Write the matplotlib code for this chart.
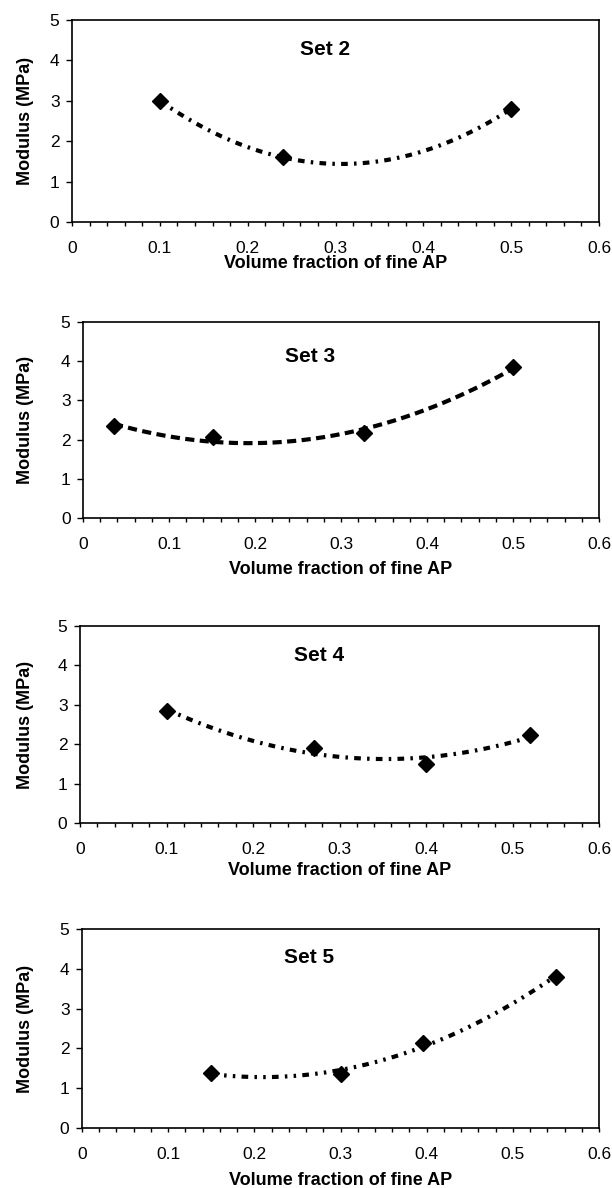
import numpy as np
import matplotlib
matplotlib.use("Agg")
import matplotlib.pyplot as plt
from matplotlib.ticker import MultipleLocator
from matplotlib.transforms import blended_transform_factory

plt.rcParams['font.family'] = ['Liberation Sans', 'DejaVu Sans']

# data
set_names = ["Set 2", "Set 3", "Set 4", "Set 5"]
x_set2 = [0.10, 0.24, 0.50]
y_set2 = [3.00, 1.60, 2.80]
x_set3 = [0.036, 0.151, 0.327, 0.50]
y_set3 = [2.35, 2.06, 2.18, 3.84]
x_set4 = [0.10, 0.27, 0.40, 0.52]
y_set4 = [2.85, 1.90, 1.50, 2.24]
x_set5 = [0.15, 0.30, 0.396, 0.55]
y_set5 = [1.38, 1.36, 2.14, 3.80]

xs = [x_set2, x_set3, x_set4, x_set5]
ys = [y_set2, y_set3, y_set4, y_set5]

W, H = 612, 1188
fig = plt.figure(figsize=(W / 100, H / 100), dpi=100)

# axes boxes in pixels: left, right, top, bottom
boxes = [(72, 599, 20, 222), (83, 599, 322, 518), (80, 599, 626, 823), (82, 599, 929, 1128)]
xlabel_top = [255, 561, 862, 1172]
title_pos = [(0.48, 0.855), (0.44, 0.825), (0.46, 0.848), (0.44, 0.858)]
dashes = [(0, (1.6, 1.5, 0.6, 1.5)), (0, (2.2, 1.3)), (0, (1.6, 1.5, 0.6, 1.5)), (0, (1.6, 1.5, 0.6, 1.5, 0.6, 1.5))]

for i in range(4):
    l, r, t, b = boxes[i]
    ax = fig.add_axes([l / W, 1 - b / H, (r - l) / W, (b - t) / H])
    x = np.array(xs[i])
    y = np.array(ys[i])

    # second order trendline
    c = np.polyfit(x, y, 2)
    xx = np.linspace(x.min(), x.max(), 200)
    ax.plot(xx, np.polyval(c, xx), color='black', lw=3, linestyle=dashes[i])
    ax.plot(x, y, linestyle='none', marker='D', markersize=8.5, color='black')

    ax.set_xlim(0, 0.6)
    ax.set_ylim(0, 5)
    ax.set_xticks([0, 0.1, 0.2, 0.3, 0.4, 0.5, 0.6])
    ax.set_xticklabels(["0", "0.1", "0.2", "0.3", "0.4", "0.5", "0.6"])
    ax.set_yticks([0, 1, 2, 3, 4, 5])
    ax.xaxis.set_minor_locator(MultipleLocator(0.02))
    ax.tick_params(axis='x', which='major', direction='out', length=3, width=1, pad=10.5, labelsize=12.5)
    ax.tick_params(axis='x', which='minor', direction='out', length=3, width=1)
    ax.tick_params(axis='y', which='major', direction='out', length=4, width=1, pad=5, labelsize=12.5)
    for s in ax.spines.values():
        s.set_linewidth(1.2)

    ax.text(title_pos[i][0], title_pos[i][1], set_names[i], transform=ax.transAxes,
            ha='center', va='center', fontsize=15, fontweight='bold')

    ax.set_ylabel("Modulus (MPa)", fontsize=13, fontweight='bold')
    ax.yaxis.set_label_coords(34 / W, 0.5, transform=blended_transform_factory(fig.transFigure, ax.transAxes))
    ax.set_xlabel("Volume fraction of fine AP", fontsize=13, fontweight='bold')
    ax.xaxis.set_label_coords(0.5, 1 - xlabel_top[i] / H, transform=blended_transform_factory(ax.transAxes, fig.transFigure))

fig.savefig("out.png", dpi=100, facecolor='white')
